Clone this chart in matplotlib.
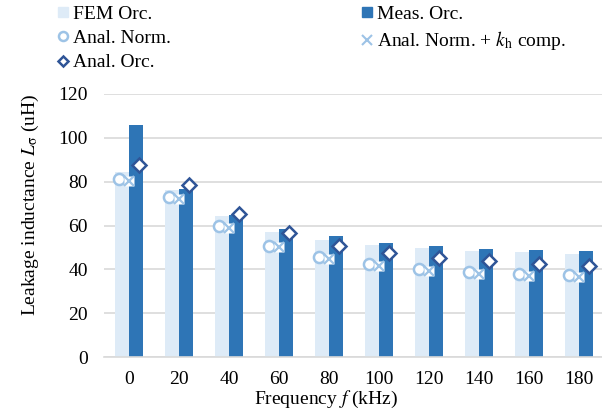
import numpy as np
import matplotlib
matplotlib.use('Agg')
import matplotlib.pyplot as plt
from matplotlib.lines import Line2D

plt.rcParams['font.family'] = ['Liberation Serif', 'DejaVu Serif']
plt.rcParams['mathtext.fontset'] = 'stix'

# data
freq = ['0', '20', '40', '60', '80', '100', '120', '140', '160', '180']
fem_orc = [84.6, 76.2, 64.3, 57.0, 53.4, 51.1, 49.6, 48.5, 47.8, 47.1]
meas_orc = [105.7, 76.8, 64.8, 58.2, 55.2, 52.0, 50.6, 49.4, 48.8, 48.2]
anal_norm = [81.2, 72.9, 59.8, 50.8, 45.5, 42.3, 40.3, 38.9, 37.9, 37.3]
anal_norm_kh = [80.4, 72.2, 59.0, 50.0, 44.7, 41.5, 39.4, 37.9, 36.9, 36.3]
anal_orc = [87.4, 78.6, 65.4, 56.4, 50.8, 47.6, 45.2, 43.7, 42.3, 41.5]

c_fem = '#DEEBF7'
c_meas = '#2E75B6'
c_norm = '#9DC3E6'
c_orc = '#2F5597'
fs = 14

fig = plt.figure(figsize=(6.02, 4.18), dpi=100)
ax = fig.add_axes([104 / 602, 61 / 418, 500 / 602, 263 / 418])

x = np.arange(len(freq))
w = 0.28
ax.bar(x - w / 2, fem_orc, w, color=c_fem, zorder=2)
ax.bar(x + w / 2, meas_orc, w, color=c_meas, zorder=2)

ax.plot(x - 0.2, anal_norm, 'o', ms=8, mfc='white', mec=c_norm, mew=1.8,
        ls='none', zorder=4)
ax.plot(x, anal_norm_kh, 's', ms=6.5, mfc='white', mec='none',
        ls='none', zorder=4)
ax.plot(x, anal_norm_kh, 'x', ms=6.5, mec=c_norm, mew=1.6,
        ls='none', zorder=5)
ax.plot(x + 0.19, anal_orc, 'D', ms=7.5, mfc='white', mec=c_orc, mew=1.8,
        ls='none', zorder=6)

ax.set_xlim(-0.5, len(freq) - 0.5)
ax.set_ylim(0, 120)
ax.set_yticks(range(0, 121, 20))
ax.set_xticks(x)
ax.set_xticklabels(freq)
ax.grid(axis='y', color='#D9D9D9', lw=1.2, zorder=0)
ax.set_axisbelow(True)
for s in ['top', 'right', 'left']:
    ax.spines[s].set_visible(False)
ax.spines['bottom'].set_color('#D9D9D9')
ax.spines['bottom'].set_linewidth(1.2)
ax.tick_params(axis='both', length=0, labelsize=fs)
ax.tick_params(axis='x', pad=10)
ax.tick_params(axis='y', pad=11.5)

ax.set_xlabel('Frequency $f$ (kHz)', fontsize=fs, va='center')
ax.xaxis.set_label_coords((326 - 104) / 500, (357 - 399) / 263)
ax.set_ylabel(r'Leakage inductance $L_\mathrm{\sigma}$ (uH)', fontsize=fs, va='center')
ax.yaxis.set_label_coords((30 - 104) / 500, (357 - 205) / 263)

h_fem = Line2D([], [], marker='s', ls='none', ms=7, mfc=c_fem, mec=c_fem)
h_meas = Line2D([], [], marker='s', ls='none', ms=7, mfc=c_meas, mec=c_meas)
h_norm = Line2D([], [], marker='o', ls='none', ms=6.5, mfc='white', mec=c_norm, mew=1.8)
h_kh = Line2D([], [], marker='x', ls='none', ms=6.5, mec=c_norm, mew=1.5)
h_orc = Line2D([], [], marker='D', ls='none', ms=5.5, mfc='white', mec=c_orc, mew=1.8)

leg_kw = dict(frameon=False, fontsize=fs, handlelength=0.6, handletextpad=0.2,
              labelspacing=0.35, borderaxespad=0, borderpad=0, loc='upper left')
fig.legend([h_fem, h_norm, h_orc], ['FEM Orc.', 'Anal. Norm.', 'Anal. Orc.'],
           bbox_to_anchor=(57.5 / 602, 1 - 5 / 418), **leg_kw)
fig.legend([h_meas, h_kh], ['Meas. Orc.', r'Anal. Norm. + $k_\mathrm{h}$ comp.'],
           bbox_to_anchor=(361 / 602, 1 - 5 / 418), **leg_kw)

fig.savefig('out.png', dpi=100)
